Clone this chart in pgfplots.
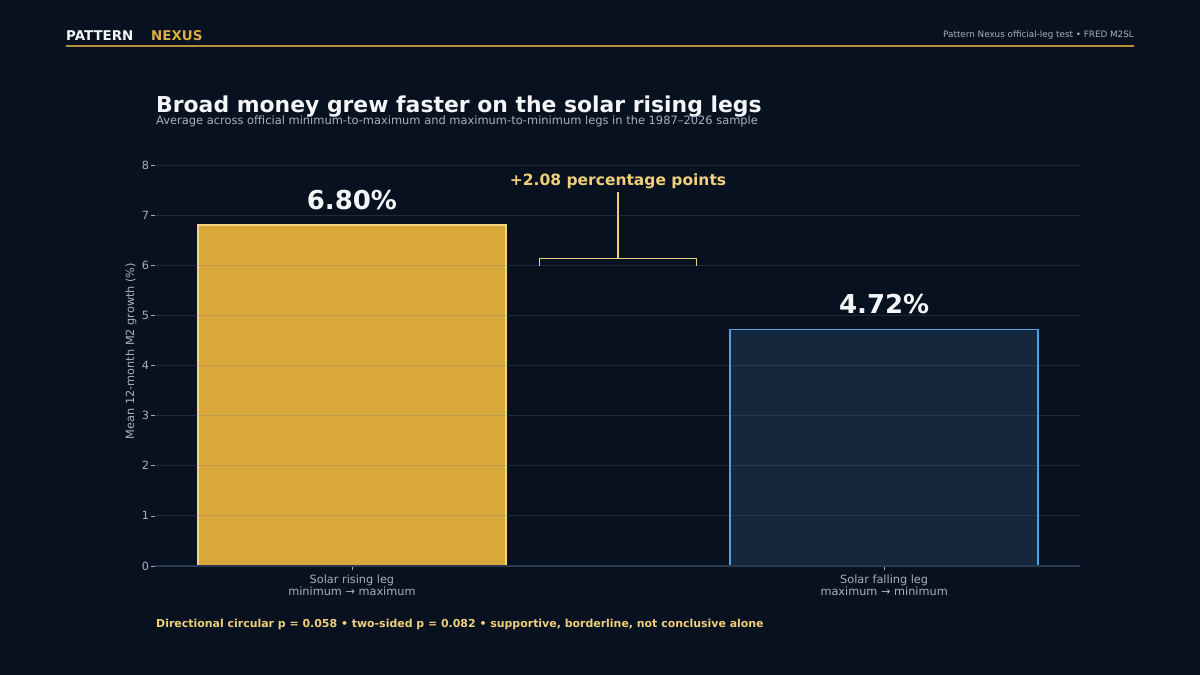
\documentclass[border=0pt]{standalone}
\usepackage{pgfplots}
\pgfplotsset{compat=1.18}
\usepackage{fontspec}
\setmainfont{DejaVu Sans}
\definecolor{bg}{HTML}{08111F}
\definecolor{gridc}{HTML}{6A7A8A}
\definecolor{spine}{HTML}{2A3A4D}
\definecolor{tickgrey}{HTML}{A6B1BF}
\definecolor{titlew}{HTML}{F3F5F8}
\definecolor{gold}{HTML}{D9A83B}
\definecolor{goldedge}{HTML}{F4D47C}
\definecolor{annot}{HTML}{F0CF7A}
\definecolor{bluefill}{HTML}{14273D}
\definecolor{blueedge}{HTML}{4F9FE3}
\definecolor{hdrline}{HTML}{B8923A}
\definecolor{nexus}{HTML}{DDAE3F}
\begin{document}
\begin{tikzpicture}[x=1pt,y=1pt]
\useasboundingbox (0,0) rectangle (1200,675);
\fill[bg] (0,0) rectangle (1200,675);
% header
\node[anchor=base west, inner sep=0, font=\fontsize{13.4}{15}\selectfont\bfseries, text=titlew] at (66,634) {PATTERN};
\node[anchor=base west, inner sep=0, font=\fontsize{13.4}{15}\selectfont\bfseries, text=nexus] at (151,634) {NEXUS};
\node[anchor=base east, inner sep=0, font=\fontsize{8.8}{10}\selectfont, text=tickgrey] at (1134,637) {Pattern Nexus official-leg test • FRED M2SL};
\draw[draw=hdrline, line width=1.1pt] (66,629) -- (1134,629);
% titles
\node[anchor=base west, inner sep=0, font=\fontsize{21.9}{25}\selectfont\bfseries, text=titlew] at (156,562) {Broad money grew faster on the solar rising legs};
\node[anchor=base west, inner sep=0, font=\fontsize{11.45}{13}\selectfont, text=tickgrey] at (156,550) {Average across official minimum-to-maximum and maximum-to-minimum legs in the 1987–2026 sample};
% y label
\node[rotate=90, inner sep=0, font=\fontsize{11.3}{13}\selectfont, text=tickgrey] at (131,324) {Mean 12-month M2 growth (\%)};
% footer
\node[anchor=base west, inner sep=0, font=\fontsize{10.95}{13}\selectfont\bfseries, text=annot] at (156,47) {Directional circular p = 0.058 • two-sided p = 0.082 • supportive, borderline, not conclusive alone};
\begin{axis}[
  at={(155pt,109pt)}, anchor=south west,
  scale only axis, width=925pt, height=401pt,
  xmin=-0.370, xmax=1.368, ymin=0, ymax=8,
  xtick={0,1},
  xticklabels={{Solar rising leg\\minimum → maximum},{Solar falling leg\\maximum → minimum}},
  xticklabel style={align=center, font=\fontsize{11.3}{12.5}\selectfont, text=tickgrey, yshift=-1pt},
  ytick={0,1,2,3,4,5,6,7,8},
  yticklabel style={font=\fontsize{11.3}{13}\selectfont, text=tickgrey, xshift=1.5pt},
  /pgf/number format/assume math mode=true,
  axis x line*=bottom, axis y line*=left,
  y axis line style={draw=none},
  x axis line style={draw=spine, line width=1.2pt, -},
  tick align=outside, major tick length=4pt,
  tick style={draw=tickgrey, line width=0.6pt},
  ymajorgrids, major grid style={draw=gridc, opacity=0.25, line width=0.8pt},
  axis on top,
  clip=false,
]
\addplot[ybar, bar width=0.579, bar shift=0pt, fill=gold, draw=goldedge, line width=1.8pt] coordinates {(0,6.80)};
\addplot[ybar, bar width=0.579, bar shift=0pt, fill=bluefill, draw=blueedge, line width=1.8pt] coordinates {(1,4.72)};
\node[font=\fontsize{26}{30}\selectfont\bfseries, text=titlew] at (axis cs:0,7.31) {6.80\%};
\node[font=\fontsize{26}{30}\selectfont\bfseries, text=titlew] at (axis cs:1,5.22) {4.72\%};
\draw[annot, line width=1.2pt] (axis cs:0.353,5.99) -- (axis cs:0.353,6.13) -- (axis cs:0.647,6.13) -- (axis cs:0.647,5.99);
\draw[annot, line width=1.2pt] (axis cs:0.5,6.13) -- (axis cs:0.5,7.47);
\node[font=\fontsize{15.5}{18}\selectfont\bfseries, text=annot] at (axis cs:0.5,7.68) {+2.08 percentage points};
\end{axis}
\end{tikzpicture}
\end{document}
